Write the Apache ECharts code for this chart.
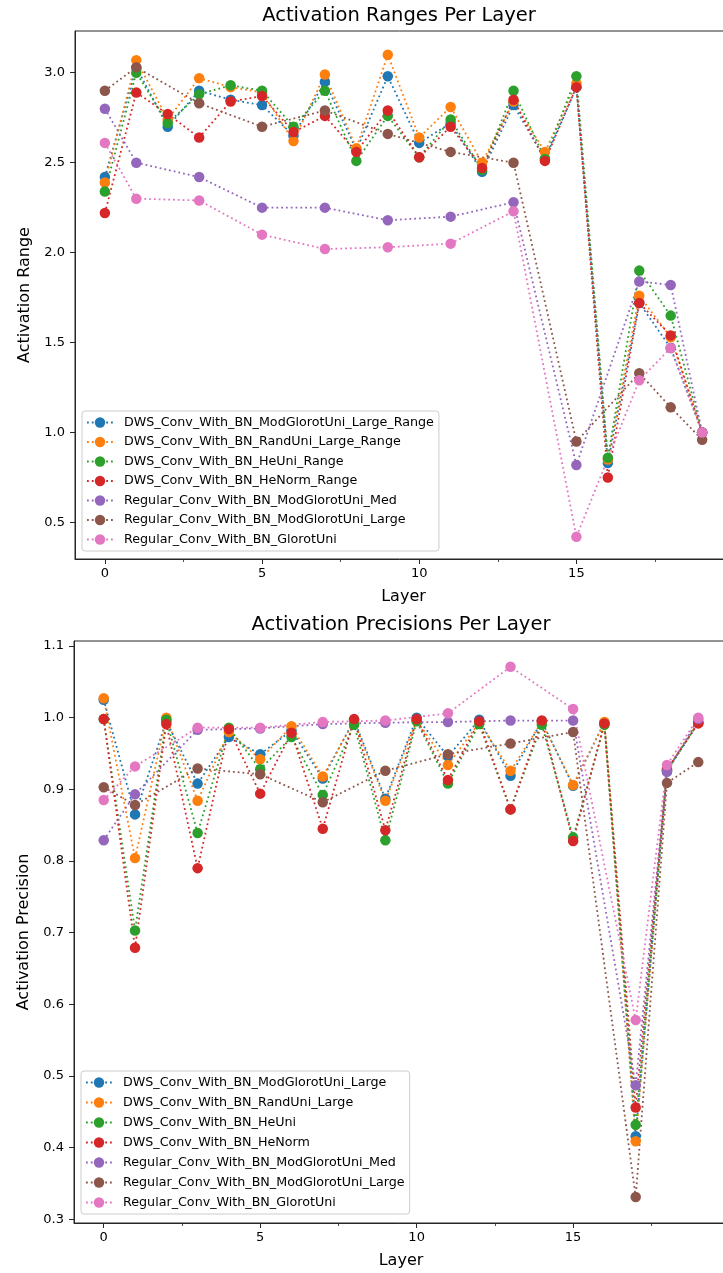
<!DOCTYPE html>
<html>
<head>
<meta charset="utf-8">
<title>Activation Ranges and Precisions Per Layer</title>
<script src="https://cdn.jsdelivr.net/npm/echarts@6/dist/echarts.min.js"></script>
<style>
  html, body { margin: 0; padding: 0; background: #ffffff; }
  #ranges { position: absolute; left: 0; top: 0; width: 723px; height: 610px; }
  #precisions { position: absolute; left: 0; top: 610px; width: 723px; height: 663px; }
</style>
</head>
<body>
<div id="ranges"></div>
<div id="precisions"></div>
<script>
// ---- layers ----
const dwsLayers = [0, 1, 2, 3, 4, 5, 6, 7, 8, 9, 10, 11, 12, 13, 14, 15, 16, 17, 18, 19];
const regularLayers = [0, 1, 3, 5, 7, 9, 11, 13, 15, 17, 18, 19];
const layerTicks = [0, 5, 10, 15];
const layerMinorTicks = [2.5, 7.5, 12.5, 17.5];

// ---- activation ranges ----
const rangeNames = [
  'DWS_Conv_With_BN_ModGlorotUni_Large_Range',
  'DWS_Conv_With_BN_RandUni_Large_Range',
  'DWS_Conv_With_BN_HeUni_Range',
  'DWS_Conv_With_BN_HeNorm_Range',
  'Regular_Conv_With_BN_ModGlorotUni_Med',
  'Regular_Conv_With_BN_ModGlorotUni_Large',
  'Regular_Conv_With_BN_GlorotUni'
];
const rangeDwsModGlorotLarge = [2.42, 3.03, 2.70, 2.90, 2.85, 2.82, 2.65, 2.95, 2.57, 2.98, 2.61, 2.72, 2.45, 2.82, 2.52, 2.92, 0.83, 1.72, 1.47, 1.00];
const rangeDwsRandUniLarge   = [2.39, 3.07, 2.74, 2.97, 2.92, 2.89, 2.62, 2.99, 2.58, 3.10, 2.64, 2.81, 2.50, 2.84, 2.56, 2.94, 0.85, 1.76, 1.53, 1.00];
const rangeDwsHeUni          = [2.34, 3.00, 2.72, 2.88, 2.93, 2.90, 2.70, 2.90, 2.51, 2.76, 2.53, 2.74, 2.46, 2.90, 2.52, 2.98, 0.86, 1.90, 1.65, 1.00];
const rangeDwsHeNorm         = [2.22, 2.89, 2.77, 2.64, 2.84, 2.87, 2.67, 2.76, 2.56, 2.79, 2.53, 2.70, 2.47, 2.85, 2.51, 2.92, 0.75, 1.72, 1.54, 1.00];
const rangeRegModGlorotMed   = [2.80, 2.50, 2.42, 2.25, 2.25, 2.18, 2.20, 2.28, 0.82, 1.84, 1.82, 1.00];
const rangeRegModGlorotLarge = [2.90, 3.03, 2.83, 2.70, 2.79, 2.66, 2.56, 2.50, 0.95, 1.33, 1.14, 0.96];
const rangeRegGlorotUni      = [2.61, 2.30, 2.29, 2.10, 2.02, 2.03, 2.05, 2.23, 0.42, 1.29, 1.47, 1.00];
const rangeTicks = [0.5, 1.0, 1.5, 2.0, 2.5, 3.0];

// ---- activation precisions ----
const precisionNames = [
  'DWS_Conv_With_BN_ModGlorotUni_Large',
  'DWS_Conv_With_BN_RandUni_Large',
  'DWS_Conv_With_BN_HeUni',
  'DWS_Conv_With_BN_HeNorm',
  'Regular_Conv_With_BN_ModGlorotUni_Med',
  'Regular_Conv_With_BN_ModGlorotUni_Large',
  'Regular_Conv_With_BN_GlorotUni'
];
const precDwsModGlorotLarge = [1.025, 0.865, 0.995, 0.908, 0.973, 0.949, 0.982, 0.915, 0.997, 0.887, 1.000, 0.946, 0.997, 0.919, 0.995, 0.905, 0.993, 0.416, 0.925, 0.993];
const precDwsRandUniLarge   = [1.027, 0.804, 1.000, 0.884, 0.980, 0.942, 0.988, 0.918, 0.995, 0.884, 0.996, 0.934, 0.993, 0.926, 0.994, 0.906, 0.994, 0.409, 0.927, 0.994];
const precDwsHeUni          = [0.998, 0.703, 0.997, 0.839, 0.986, 0.928, 0.973, 0.892, 0.990, 0.829, 0.995, 0.908, 0.991, 0.872, 0.990, 0.833, 0.990, 0.432, 0.926, 0.993];
const precDwsHeNorm         = [0.998, 0.679, 0.991, 0.790, 0.984, 0.894, 0.979, 0.845, 0.998, 0.843, 0.998, 0.913, 0.995, 0.872, 0.996, 0.828, 0.992, 0.456, 0.928, 0.992];
const precRegModGlorotMed   = [0.829, 0.893, 0.983, 0.985, 0.991, 0.993, 0.994, 0.996, 0.996, 0.487, 0.925, 0.998];
const precRegModGlorotLarge = [0.903, 0.878, 0.929, 0.921, 0.882, 0.926, 0.949, 0.964, 0.980, 0.331, 0.909, 0.938];
const precRegGlorotUni      = [0.885, 0.932, 0.986, 0.986, 0.994, 0.996, 1.006, 1.071, 1.012, 0.578, 0.934, 1.000];
const precisionTicks = [0.3, 0.4, 0.5, 0.6, 0.7, 0.8, 0.9, 1.0, 1.1];

// ---- styling ----
const FONT = 'DejaVu Sans';
const COLORS = ['#1f77b4', '#ff7f0e', '#2ca02c', '#d62728', '#9467bd', '#8c564b', '#e377c2'];
const INK = '#000000';
const SPINE = '#262626';

function pairs(xs, ys) {
  return xs.map((x, i) => [x, ys[i]]);
}

function lineSeries(name, color, xs, ys) {
  return {
    type: 'line',
    name: name,
    xAxisIndex: 0,
    yAxisIndex: 0,
    data: pairs(xs, ys),
    symbol: 'circle',
    symbolSize: 10.5,
    showSymbol: true,
    color: color,
    itemStyle: { color: color, borderWidth: 0 },
    lineStyle: { color: color, width: 1.8, type: [1.8, 3], cap: 'butt' },
    emphasis: { disabled: true }
  };
}

function buildOption(cfg) {
  const g = cfg.grid;
  // the plot frame runs past the right edge of the canvas, so bounds are not clamped
  const gridRect = { left: g.left, top: g.top, width: g.width, height: g.height, outerBoundsMode: 'none', containLabel: false };
  return {
    animation: false,
    textStyle: { fontFamily: FONT },
    title: {
      text: cfg.title,
      left: cfg.titleCenter,
      top: cfg.titleTop,
      textAlign: 'center',
      padding: 0,
      textStyle: { fontFamily: FONT, fontSize: 19.5, fontWeight: 'normal', color: INK }
    },
    grid: [
      Object.assign({ show: true, borderColor: SPINE, borderWidth: 1, backgroundColor: 'transparent' }, gridRect),
      Object.assign({}, gridRect)
    ],
    legend: {
      orient: 'vertical',
      left: cfg.legend.left,
      top: cfg.legend.top,
      padding: [5, 5, 5, 4],
      itemWidth: 26,
      itemHeight: 13,
      itemGap: cfg.legend.gap,
      backgroundColor: 'rgba(255,255,255,0.8)',
      borderColor: '#cccccc',
      borderWidth: 1,
      borderRadius: 3,
      selectedMode: false,
      data: cfg.names,
      textStyle: { fontFamily: FONT, fontSize: 12.7, color: INK, lineHeight: 13, padding: [0, 0, 0, 6] }
    },
    xAxis: [
      {
        type: 'value', gridIndex: 0, min: -0.95, max: 19.95,
        name: 'Layer', nameLocation: 'middle', nameGap: cfg.xNameGap,
        nameTextStyle: { fontFamily: FONT, fontSize: 16, color: INK },
        axisLine: { show: true, onZero: false, lineStyle: { color: SPINE, width: 1 } },
        axisTick: { show: true, length: 5, customValues: layerTicks, lineStyle: { color: SPINE, width: 1 } },
        axisLabel: { show: true, customValues: layerTicks, fontFamily: FONT, fontSize: 13, color: INK, margin: 8 },
        splitLine: { show: false }
      },
      {
        type: 'value', gridIndex: 1, min: -0.95, max: 19.95,
        axisLine: { show: false },
        axisTick: { show: true, length: 3, customValues: layerMinorTicks, lineStyle: { color: SPINE, width: 0.8 } },
        axisLabel: { show: false },
        splitLine: { show: false }
      }
    ],
    yAxis: [
      {
        type: 'value', gridIndex: 0, min: cfg.yMin, max: cfg.yMax,
        name: cfg.yName, nameLocation: 'middle', nameGap: cfg.yNameGap,
        nameTextStyle: { fontFamily: FONT, fontSize: 16, color: INK },
        axisLine: { show: true, onZero: false, lineStyle: { color: SPINE, width: 1 } },
        axisTick: { show: true, length: 5, customValues: cfg.yTicks, lineStyle: { color: SPINE, width: 1 } },
        axisLabel: { show: true, customValues: cfg.yTicks, fontFamily: FONT, fontSize: 13, color: INK, margin: 10,
                     formatter: (v) => Number(v).toFixed(1) },
        splitLine: { show: false }
      },
      {
        type: 'value', gridIndex: 1, min: cfg.yMin, max: cfg.yMax, show: false
      }
    ],
    series: cfg.series
  };
}

const rangeSeries = [
  lineSeries(rangeNames[0], COLORS[0], dwsLayers, rangeDwsModGlorotLarge),
  lineSeries(rangeNames[1], COLORS[1], dwsLayers, rangeDwsRandUniLarge),
  lineSeries(rangeNames[2], COLORS[2], dwsLayers, rangeDwsHeUni),
  lineSeries(rangeNames[3], COLORS[3], dwsLayers, rangeDwsHeNorm),
  lineSeries(rangeNames[4], COLORS[4], regularLayers, rangeRegModGlorotMed),
  lineSeries(rangeNames[5], COLORS[5], regularLayers, rangeRegModGlorotLarge),
  lineSeries(rangeNames[6], COLORS[6], regularLayers, rangeRegGlorotUni)
];

const precisionSeries = [
  lineSeries(precisionNames[0], COLORS[0], dwsLayers, precDwsModGlorotLarge),
  lineSeries(precisionNames[1], COLORS[1], dwsLayers, precDwsRandUniLarge),
  lineSeries(precisionNames[2], COLORS[2], dwsLayers, precDwsHeUni),
  lineSeries(precisionNames[3], COLORS[3], dwsLayers, precDwsHeNorm),
  lineSeries(precisionNames[4], COLORS[4], regularLayers, precRegModGlorotMed),
  lineSeries(precisionNames[5], COLORS[5], regularLayers, precRegModGlorotLarge),
  lineSeries(precisionNames[6], COLORS[6], regularLayers, precRegGlorotUni)
];

const rangesChart = echarts.init(document.getElementById('ranges'), null, { renderer: 'canvas' });
rangesChart.setOption(buildOption({
  title: 'Activation Ranges Per Layer',
  titleTop: 6,
  titleCenter: 399,
  grid: { left: 75, top: 31, width: 657, height: 528 },
  yMin: 0.297, yMax: 3.232, yTicks: rangeTicks,
  yName: 'Activation Range', yNameGap: 42, xNameGap: 30,
  names: rangeNames,
  legend: { left: 82, top: 411, gap: 6.5 },
  series: rangeSeries
}));

const precisionsChart = echarts.init(document.getElementById('precisions'), null, { renderer: 'canvas' });
precisionsChart.setOption(buildOption({
  title: 'Activation Precisions Per Layer',
  titleTop: 5,
  titleCenter: 401,
  grid: { left: 74, top: 31, width: 654, height: 582 },
  yMin: 0.2948, yMax: 1.107, yTicks: precisionTicks,
  yName: 'Activation Precision', yNameGap: 42, xNameGap: 30,
  names: precisionNames,
  legend: { left: 81, top: 461, gap: 7 },
  series: precisionSeries
}));
</script>
</body>
</html>
